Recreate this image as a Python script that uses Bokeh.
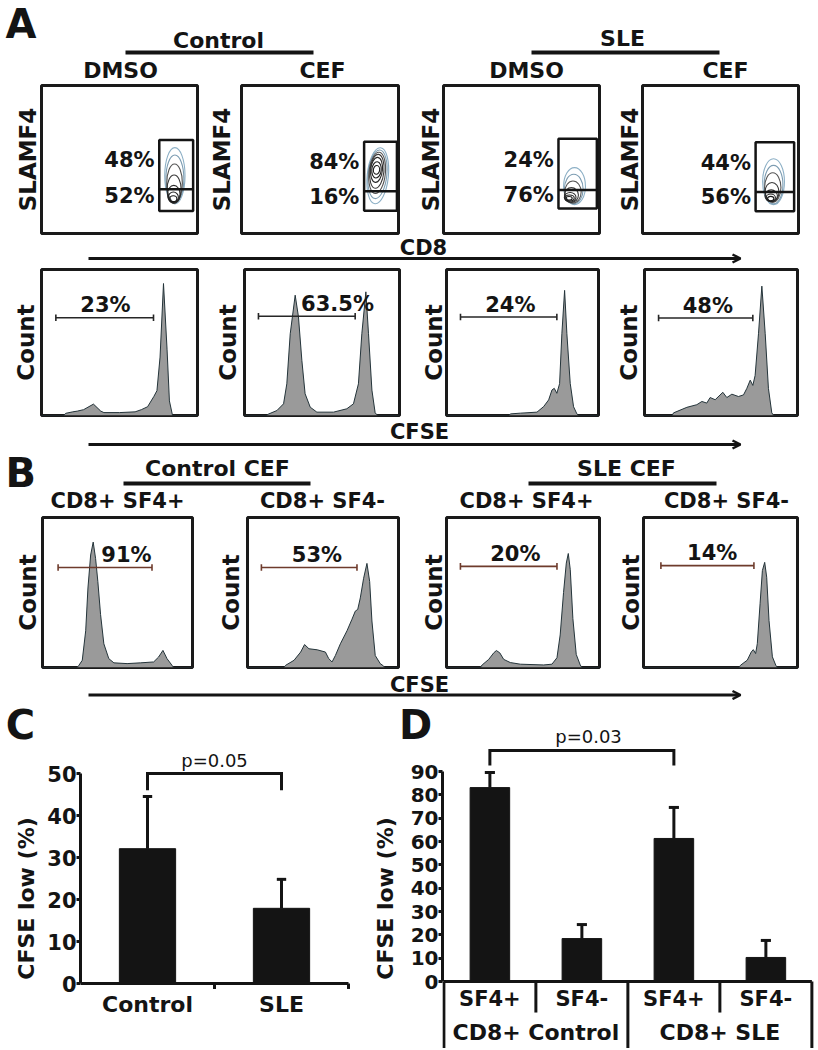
from bokeh.plotting import figure
from bokeh.layouts import column, row
from bokeh.models import Range1d, FixedTicker, Arrow, OpenHead
from bokeh.core.properties import value
from bokeh.embed import file_html
from bokeh.resources import INLINE

# ======================= DATA =======================
# Panel A (top): SLAMF4 vs CD8 contour plots
a_groups = ["Control", "SLE"]
a_treat = ["DMSO", "CEF", "DMSO", "CEF"]
a_pct_hi = ["48%", "84%", "24%", "44%"]
a_pct_lo = ["52%", "16%", "76%", "56%"]
gate_x0 = [75.5, 78.1, 73.7, 72.5]
gate_x1 = [97.2, 99.0, 98.3, 97.2]
gate_y0 = [15.2, 15.4, 16.9, 15.1]
gate_y1 = [63.1, 62.0, 64.0, 61.6]
gate_mid = [29.9, 28.5, 29.4, 28.1]

# contour rings: centre (CD8, SLAMF4), width, height
ct1_x = [85.5, 85.5, 85.3, 85.0, 84.8, 84.5, 84.5]
ct1_y = [39.0, 37.0, 34.0, 30.0, 26.5, 24.5, 23.5]
ct1_w = [13.0, 11.5, 10.0, 9.0, 8.0, 6.5, 4.5]
ct1_h = [38.0, 32.0, 26.0, 19.0, 12.0, 7.0, 4.0]

ct2_x = [86.8, 86.6, 86.4, 86.2, 86.0, 86.0, 86.0]
ct2_y = [39.0, 40.0, 41.0, 42.0, 43.0, 43.0, 43.0]
ct2_w = [13.5, 12.0, 10.5, 9.0, 7.5, 6.0, 4.0]
ct2_h = [38.0, 33.0, 28.0, 23.0, 17.0, 11.0, 6.0]

ct3_x = [84.0, 83.5, 83.0, 82.0, 81.2, 80.8, 80.5]
ct3_y = [32.0, 30.0, 28.0, 26.0, 24.5, 24.0, 23.8]
ct3_w = [14.0, 12.0, 10.5, 9.0, 7.5, 6.0, 4.0]
ct3_h = [25.0, 20.0, 15.0, 10.0, 6.5, 4.0, 2.5]

ct4_x = [84.0, 84.0, 83.5, 83.0, 82.5, 82.2, 82.2]
ct4_y = [35.0, 33.0, 31.0, 28.0, 25.5, 24.2, 23.6]
ct4_w = [14.0, 12.0, 10.5, 9.0, 8.0, 6.0, 4.0]
ct4_h = [31.0, 26.0, 20.0, 13.0, 8.0, 5.0, 3.0]

# Panel A (bottom): CFSE histograms (CFSE channel, count as % of scale)
hA1_x = [0, 14, 15.6, 20, 23, 27, 33.3, 38, 40, 50, 60, 64, 68, 72, 74, 76, 78.2, 80.5, 82, 84, 100]
hA1_y = [0, 0, 1.5, 2.5, 3, 4, 7.8, 3, 2, 2, 2.5, 4, 6, 13, 17, 40, 90.4, 45, 10, 0, 0]
hA2_x = [0, 14, 15.5, 20.9, 25.2, 27.3, 29.5, 32.7, 34.8, 37, 39.1, 42.4, 46.7, 57.4, 66, 70.3, 73.5, 75.7, 78.3, 80, 82.2, 84.3, 86, 100]
hA2_y = [0, 0, 1, 3.4, 8, 21.7, 56, 82.4, 67.7, 37.8, 14.9, 5.7, 2.3, 2.3, 4.6, 8, 21.7, 56, 84.7, 56, 17.4, 1.8, 0, 0]
hA3_x = [0, 41, 42, 48.6, 59.5, 63.9, 67.2, 69.4, 70.9, 72.6, 74.4, 75.9, 77.7, 79.2, 81.4, 83.6, 85.8, 87, 100]
hA3_y = [0, 0, 1.1, 1.6, 2.3, 6.1, 10.7, 17.5, 18.6, 15.2, 21.8, 56, 85.7, 56, 22, 6, 1.1, 0, 0]
hA4_x = [0, 18, 19, 27.7, 34.2, 37.5, 40.7, 42.9, 46.2, 51.2, 53.8, 57.1, 61.4, 64.7, 66.9, 69.1, 70.8, 72.3, 74.5, 76.7, 78.9, 81, 83.2, 84.5, 100]
hA4_y = [0, 0, 1.8, 5.6, 7.4, 9.6, 8.5, 12.3, 10.8, 15.9, 12.3, 14.6, 13, 14.1, 18.6, 24.2, 20.6, 27.4, 56, 88.6, 56, 18.6, 1.8, 0, 0]
hA_pct = ["23%", "63.5%", "24%", "48%"]
hA_gate_x0 = [9.2, 9.0, 9.2, 9.2]
hA_gate_x1 = [71.8, 71.4, 72.6, 70.8]
hA_gate_y = [67.0, 68.0, 67.5, 66.8]

# Panel B: CFSE histograms of sorted subsets
b_groups = ["Control CEF", "SLE CEF"]
b_subsets = ["CD8+ SF4+", "CD8+ SF4-", "CD8+ SF4+", "CD8+ SF4-"]
hB1_x = [0, 23, 24.3, 26.5, 28.8, 30.3, 32.1, 33.8, 35.4, 36.9, 38.7, 40.9, 44.2, 47.6, 56.4, 65.3, 74.1, 77.4, 80.3, 83, 86.3, 87.5, 100]
hB1_y = [0, 0, 1.5, 4.8, 24.5, 53, 75, 83.6, 72.6, 57.3, 35.4, 15.8, 5.9, 3.1, 2.6, 3.1, 3.7, 7, 11.4, 5.9, 1.5, 0, 0]
hB2_x = [0, 24, 25.3, 30.8, 35.2, 37.8, 40.7, 46.2, 51.6, 53.8, 56, 58.2, 61.5, 65.9, 69.2, 71.4, 73, 74.7, 76.9, 79.1, 80.9, 82.4, 84.6, 87.9, 90.1, 91, 100]
hB2_y = [0, 0, 1.5, 4.8, 10.3, 15.3, 12.5, 11.8, 10.3, 5.9, 3.7, 8, 15.8, 24.5, 32.2, 37.6, 38.7, 46.4, 59.5, 69.4, 57.3, 31, 8, 2.6, 1, 0, 0]
hB3_x = [0, 22, 23.3, 27.6, 30.9, 32.6, 34.8, 37.4, 41.7, 48.3, 63.5, 68.9, 72.2, 74.3, 76.5, 78.3, 79.6, 80.9, 82.6, 84.8, 87.4, 88.5, 100]
hB3_y = [0, 0, 1.7, 5.4, 9.8, 11.3, 9.8, 5.4, 3.3, 2.2, 1.7, 2.2, 6.5, 21.7, 50, 69.6, 76, 65.2, 32.6, 8.7, 1.7, 0, 0]
hB4_x = [0, 62, 63, 67.4, 70, 71.3, 72.8, 73.9, 75.7, 77.2, 78.7, 80, 81.5, 83.7, 85.9, 87, 100]
hB4_y = [0, 0, 1.5, 4.9, 10.4, 11.9, 9.3, 15.9, 42.5, 64.6, 70.1, 60.2, 31.4, 7.1, 1.5, 0, 0]
hB_pct = ["91%", "53%", "20%", "14%"]
hB_gate_x0 = [10.4, 9.2, 9.1, 11.3]
hB_gate_x1 = [73.0, 72.5, 72.2, 71.7]
hB_gate_y = [66.7, 66.7, 67.4, 67.9]

# Panel C
c_categories = ["Control", "SLE"]
c_mean = [32.1, 17.9]
c_err = [12.4, 6.9]
c_p = "p=0.05"
c_ticks = [0, 10, 20, 30, 40, 50]

# Panel D
d_subsets = ["SF4+", "SF4-", "SF4+", "SF4-"]
d_groups = ["CD8+ Control", "CD8+ SLE"]
d_mean = [83.1, 18.4, 61.3, 10.3]
d_err = [6.5, 6.0, 13.3, 7.3]
d_p = "p=0.03"
d_ticks = [0, 10, 20, 30, 40, 50, 60, 70, 80, 90]

# ======================= STYLE / HELPERS =======================
FONT = "DejaVu Sans"
INK = "#141414"
W = 818


def T(p, x, y, s, size="22px", style="bold", align="center", baseline="middle"):
    p.text(x=[x], y=[y], text=[s], text_font=value(FONT), text_font_size=size,
           text_font_style=style, text_align=align, text_baseline=baseline,
           text_color=INK)


def header(h, w=W):
    p = figure(width=w, height=h, x_range=Range1d(0, w), y_range=Range1d(h, 0),
               x_axis_location=None, y_axis_location=None, min_border=0,
               title=None, toolbar_location=None, output_backend="svg")
    p.outline_line_color = None
    p.grid.visible = False
    return p


def arrow(p, y, x0=88, x1=740):
    p.add_layout(Arrow(end=OpenHead(size=8, line_width=2.5, line_color=INK),
                       x_start=x0, y_start=y, x_end=x1, y_end=y,
                       line_width=3, line_color=INK))


def boxfig(w, h, bl, br, bt, bb, label, standoff):
    p = figure(width=w, height=h, x_range=Range1d(0, 100), y_range=Range1d(0, 100),
               x_axis_location=None, y_axis_location="left", title=None,
               min_border_left=bl, min_border_right=br, min_border_top=bt,
               min_border_bottom=bb, toolbar_location=None, output_backend="svg")
    p.outline_line_color = "#1a1a1a"
    p.outline_line_width = 3
    p.outline_line_alpha = 1.0
    p.grid.visible = False
    ax = p.yaxis[0]
    ax.ticker = FixedTicker(ticks=[])
    ax.axis_line_color = None
    ax.major_tick_line_color = None
    ax.minor_tick_line_color = None
    ax.major_tick_out = 0
    ax.major_tick_in = 0
    ax.minor_tick_out = 0
    ax.minor_tick_in = 0
    ax.major_label_standoff = 0
    ax.axis_label = label
    ax.axis_label_standoff = standoff
    ax.axis_label_text_font = FONT
    ax.axis_label_text_font_style = "bold"
    ax.axis_label_text_font_size = "23px"
    ax.axis_label_text_color = INK
    return p


# ======================= ROW 1: headers of panel A =======================
h1 = header(83)
T(h1, 5, 23.5, "A", size="40px", align="left")
T(h1, 218, 40, a_groups[0])
h1.segment(x0=[125], y0=[52], x1=[313], y1=[52], line_width=4, line_color=INK)
T(h1, 622, 38, a_groups[1])
h1.segment(x0=[531], y0=[52], x1=[719], y1=[52], line_width=4, line_color=INK)
for xc, s in zip([120, 322, 526, 725], a_treat):
    T(h1, xc, 70, s)

# ======================= ROW 2: contour plots =======================
ring_colors = ["#8db0c6", "#7d9db2", "#555555", "#3a3a3a", "#2a2a2a", "#222222", "#1a1a1a"]
contours = [(ct1_x, ct1_y, ct1_w, ct1_h, 0.0), (ct2_x, ct2_y, ct2_w, ct2_h, -0.10),
            (ct3_x, ct3_y, ct3_w, ct3_h, 0.0), (ct4_x, ct4_y, ct4_w, ct4_h, 0.0)]
spec2 = [(205, 41, 8, 1), (201, 35, 8, 7), (202, 37, 9, 0), (210, 34, 20, 0)]
row2 = []
for i, (w, bl, br, so) in enumerate(spec2):
    p = boxfig(w, 152, bl, br, 2, 2, "SLAMF4", so)
    cx, cy, cw, chh, ang = contours[i]
    p.ellipse(x=cx, y=cy, width=cw, height=chh, angle=ang, fill_color=None,
              line_color=ring_colors, line_width=1.1)
    p.quad(left=[gate_x0[i]], right=[gate_x1[i]], bottom=[gate_y0[i]], top=[gate_y1[i]],
           fill_color=None, line_color=INK, line_width=2.5)
    p.segment(x0=[gate_x0[i]], y0=[gate_mid[i]], x1=[gate_x1[i]], y1=[gate_mid[i]],
              line_color=INK, line_width=2.5)
    tx = gate_x0[i] - 3
    T(p, tx, (gate_mid[i] + gate_y1[i]) / 2 + 3, a_pct_hi[i], size="21px", align="right")
    T(p, tx, (gate_y0[i] + gate_mid[i]) / 2 + 3, a_pct_lo[i], size="21px", align="right")
    row2.append(p)

# ======================= ROW 3: CD8 arrow =======================
h3 = header(30)
T(h3, 423, 12.5, "CD8", size="21px")
arrow(h3, 23)


# ======================= histogram helper =======================
def hist(p, hx, hy, g0, g1, gy, pct, lx, gate_color):
    p.varea(x=hx, y1=0, y2=hy, fill_color="#9a9a9a")
    p.line(x=hx, y=hy, line_color="#24343a", line_width=1)
    p.segment(x0=[g0], y0=[gy], x1=[g1], y1=[gy], line_color=gate_color, line_width=1.6)
    p.segment(x0=[g0, g1], y0=[gy - 2.2, gy - 2.2], x1=[g0, g1], y1=[gy + 2.2, gy + 2.2],
              line_color=gate_color, line_width=1.6)
    T(p, lx, gy + 8.5, pct, size="21px")


# ======================= ROW 4: panel A histograms =======================
hA = [(hA1_x, hA1_y), (hA2_x, hA2_y), (hA3_x, hA3_y), (hA4_x, hA4_y)]
hA_lab_x = [41, 60, 42, 41.4]
spec4 = [(208, 41, 11, 2, 3, 3), (202, 36, 11, 4, 2, 4), (202, 36, 14, 4, 2, 0), (206, 32, 21, 4, 2, 3)]
row4 = []
for i, (w, bl, br, bt, bb, so) in enumerate(spec4):
    p = boxfig(w, 153, bl, br, bt, bb, "Count", so)
    hist(p, hA[i][0], hA[i][1], hA_gate_x0[i], hA_gate_x1[i], hA_gate_y[i],
         hA_pct[i], hA_lab_x[i], "#262626")
    row4.append(p)

# ======================= ROW 5: CFSE arrow + panel B headers =======================
h5 = header(95)
T(h5, 419, 13.5, "CFSE", size="21px")
arrow(h5, 26)
T(h5, 5, 54.3, "B", size="40px", align="left")
T(h5, 217, 50, b_groups[0])
h5.segment(x0=[123], y0=[65], x1=[310], y1=[65], line_width=4, line_color=INK)
T(h5, 626, 50, b_groups[1])
h5.segment(x0=[528], y0=[65], x1=[716], y1=[65], line_width=4, line_color=INK)
for xc, s in zip([117, 322, 526, 726], b_subsets):
    T(h5, xc, 82.5, s, size="21px")

# ======================= ROW 6: panel B histograms =======================
hB = [(hB1_x, hB1_y), (hB2_x, hB2_y), (hB3_x, hB3_y), (hB4_x, hB4_y)]
hB_lab_x = [56, 46, 45, 44.6]
spec6 = [(210, 42, 18, 2, 5, 2), (200, 37, 12, 2, 5, 4), (202, 36, 13, 4, 2, 0), (206, 31, 21, 4, 2, 0)]
row6 = []
for i, (w, bl, br, bt, bb, so) in enumerate(spec6):
    p = boxfig(w, 159, bl, br, bt, bb, "Count", so)
    hist(p, hB[i][0], hB[i][1], hB_gate_x0[i], hB_gate_x1[i], hB_gate_y[i],
         hB_pct[i], hB_lab_x[i], "#6e3b2c")
    row6.append(p)

# ======================= ROW 7: CFSE arrow =======================
h7 = header(28)
T(h7, 419, 12.3, "CFSE", size="21px")
arrow(h7, 22.5)


# ======================= ROW 8: panels C and D =======================
def style_yaxis(p, ticks, bounds, tick_size, standoff):
    ax = p.yaxis[0]
    ax.ticker = FixedTicker(ticks=ticks)
    ax.bounds = bounds
    ax.axis_line_width = 3
    ax.axis_line_color = INK
    ax.major_tick_line_width = 3
    ax.major_tick_line_color = INK
    ax.major_tick_out = 4
    ax.major_tick_in = 0
    ax.minor_tick_line_color = None
    ax.major_label_standoff = 0
    ax.major_label_text_font = FONT
    ax.major_label_text_font_style = "bold"
    ax.major_label_text_font_size = tick_size
    ax.major_label_text_color = INK
    ax.axis_label = "CFSE low (%)"
    ax.axis_label_text_font = FONT
    ax.axis_label_text_font_style = "bold"
    ax.axis_label_text_font_size = "22px"
    ax.axis_label_text_color = INK
    ax.axis_label_standoff = standoff


PH = 300   # chart figure height
CW = 360   # width of the C figure
DW = W - CW

# letters and D's p-value sit in a strip above the two charts
hC = header(48, CW)
T(hC, 20, 24, "C", size="40px")
hD = header(48, DW)
T(hD, 55, 24, "D", size="40px")
T(hD, 228, 36, d_p, size="18px", style="normal")

# ---- C ----
cpx = 134.0   # px per category
cpy = 4.2     # px per %
pc = figure(width=CW, height=PH,
            x_range=Range1d(0.5, 0.5 + (CW - 80) / cpx),
            y_range=Range1d(-(PH - 235) / cpy, 50 + 25 / cpy),
            x_axis_location=None, y_axis_location="left", title=None,
            min_border_left=80, min_border_right=0, min_border_top=0, min_border_bottom=0,
            toolbar_location=None, output_backend="svg")
pc.outline_line_color = None
pc.grid.visible = False
style_yaxis(pc, c_ticks, (0, 50), "21px", 5)
cx = [i + 1 for i in range(len(c_mean))]
pc.vbar(x=cx, top=c_mean, width=0.42, fill_color=INK, line_color=INK)
c_hi = [m + e for m, e in zip(c_mean, c_err)]
pc.segment(x0=cx, y0=c_mean, x1=cx, y1=c_hi, line_color=INK, line_width=3)
pc.segment(x0=[x - 0.035 for x in cx], y0=c_hi, x1=[x + 0.035 for x in cx], y1=c_hi,
           line_color=INK, line_width=3)
pc.segment(x0=[0.5], y0=[0], x1=[len(cx) + 0.5], y1=[0], line_color=INK, line_width=3)
pc.segment(x0=[1.5, 2.5], y0=[0, 0], x1=[1.5, 2.5], y1=[-1.3, -1.3], line_color=INK, line_width=3)
for x, s in zip(cx, c_categories):
    T(pc, x, -5.0, s, size="22px")
pc.line(x=[1, 1, 2, 2], y=[46, 50, 50, 46], line_color=INK, line_width=3, line_join="miter")
T(pc, 1.5, 53.1, c_p, size="18px", style="normal")

# ---- D ----
dpx = 92.0
dpy = 210.0 / 90.0
d0 = 0.485
pd = figure(width=DW, height=PH,
            x_range=Range1d(d0, d0 + (DW - 82) / dpx),
            y_range=Range1d(-(PH - 233) / dpy, 90 + 23 / dpy),
            x_axis_location=None, y_axis_location="left", title=None,
            min_border_left=82, min_border_right=0, min_border_top=0, min_border_bottom=0,
            toolbar_location=None, output_backend="svg")
pd.outline_line_color = None
pd.grid.visible = False
style_yaxis(pd, d_ticks, (0, 90), "20px", 10)
dx = [i + 1 for i in range(len(d_mean))]
pd.vbar(x=dx, top=d_mean, width=0.43, fill_color=INK, line_color=INK)
d_hi = [m + e for m, e in zip(d_mean, d_err)]
pd.segment(x0=dx, y0=d_mean, x1=dx, y1=d_hi, line_color=INK, line_width=3)
pd.segment(x0=[x - 0.055 for x in dx], y0=d_hi, x1=[x + 0.055 for x in dx], y1=d_hi,
           line_color=INK, line_width=3)
ybot = -(PH - 233) / dpy
pd.segment(x0=[0.5], y0=[0], x1=[len(dx) + 0.5], y1=[0], line_color=INK, line_width=3)
pd.segment(x0=[0.5, 2.5, 4.5], y0=[0, 0, 0], x1=[0.5, 2.5, 4.5], y1=[ybot] * 3,
           line_color=INK, line_width=3)
pd.segment(x0=[1.5, 3.5], y0=[0, 0], x1=[1.5, 3.5], y1=[-13.3, -13.3],
           line_color=INK, line_width=3)
for x, s in zip(dx, d_subsets):
    T(pd, x, -7.7, s, size="21px")
for x, s in zip([1.5, 3.5], d_groups):
    T(pd, x, -22.0, s, size="22px")
pd.line(x=[1, 1, 3, 3], y=[92.6, 99.0, 99.0, 92.6], line_color=INK, line_width=3, line_join="miter")

layout = column(
    h1,
    row(*row2, spacing=0),
    h3,
    row(*row4, spacing=0),
    h5,
    row(*row6, spacing=0),
    h7,
    row(hC, hD, spacing=0),
    row(pc, pd, spacing=0),
    spacing=0,
)

open("out.html", "w").write(file_html(layout, INLINE, title="Figure"))
